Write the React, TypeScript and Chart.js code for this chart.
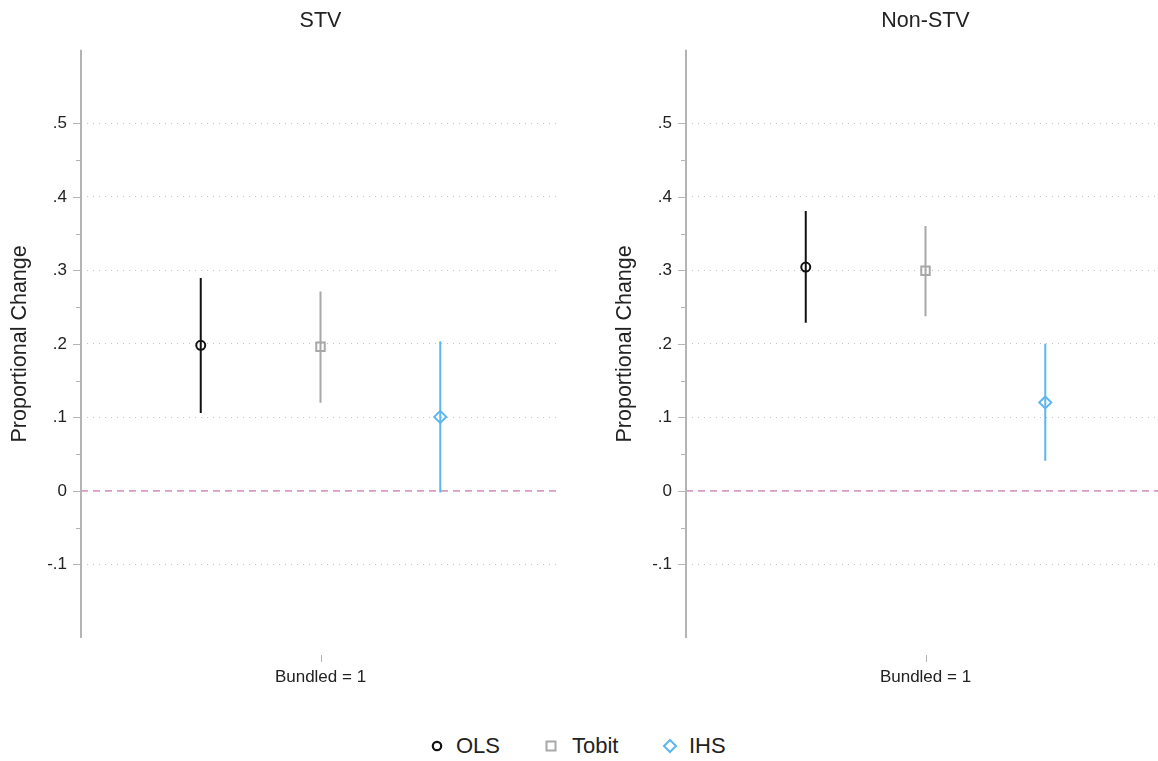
import React, { useEffect, useRef } from "react";
import { Chart, registerables } from "chart.js";

Chart.register(...registerables);

// ---------- data ----------
const SERIES_NAMES = ["OLS", "Tobit", "IHS"];
const SERIES_X = [0.75, 1, 1.25];
const SERIES_COLORS = ["#111111", "#a8a8a8", "#5db7ee"];
const SERIES_STYLES = ["circle", "rect", "rectRot"];
const SERIES_RADII = [4.5, 6, 6];

const PANEL_TITLES = ["STV", "Non-STV"];

const STV_EST = [0.198, 0.196, 0.1007];
const STV_LO = [0.106, 0.12, -0.002];
const STV_HI = [0.2895, 0.2714, 0.2037];

const NON_EST = [0.3045, 0.2995, 0.1204];
const NON_LO = [0.2287, 0.2377, 0.041];
const NON_HI = [0.3807, 0.3604, 0.2003];

const X_LABEL = "Bundled = 1";
const X_CENTER = 1;
const X_MIN = 0.5;
const X_MAX = 1.5;

const Y_MIN = -0.2;
const Y_MAX = 0.6;
const Y_MAJOR = [-0.1, 0, 0.1, 0.2, 0.3, 0.4, 0.5];
const Y_MAJOR_LABELS = ["-.1", "0", ".1", ".2", ".3", ".4", ".5"];
const Y_MINOR = [-0.05, 0.05, 0.15, 0.25, 0.35, 0.45];
const ZERO_VALUE = 0;

const Y_TITLE = "Proportional Change";

// ---------- style ----------
const FONT = "'Liberation Sans', Arial, Helvetica, sans-serif";
const TEXT_COLOR = "#222222";
const AXIS_COLOR = "#b4b4b4";
const GRID_COLOR = "#c4c4c4";
const ZERO_COLOR = "#d69cc2";

const CANVAS_W = 560;
const CANVAS_H = 700;
const PLOT_LEFT = 81;
const PLOT_BOTTOM = 638;

Chart.defaults.font.family = FONT;

const isMajor = (v: number) => Y_MAJOR.some((m) => Math.abs(m - v) < 1e-9);

const axisPlugin = {
  id: "stataAxes",
  afterDatasetsDraw(chart: any) {
    const { ctx, chartArea, scales } = chart;
    const ys = scales.y;
    const xs = scales.x;
    ctx.save();
    ctx.strokeStyle = AXIS_COLOR;
    ctx.lineWidth = 2;
    ctx.beginPath();
    ctx.moveTo(chartArea.left, chartArea.top);
    ctx.lineTo(chartArea.left, chartArea.bottom);
    ctx.stroke();
    ctx.lineWidth = 1;
    ctx.beginPath();
    Y_MAJOR.forEach((v) => {
      const py = Math.round(ys.getPixelForValue(v)) + 0.5;
      ctx.moveTo(chartArea.left - 8, py);
      ctx.lineTo(chartArea.left, py);
    });
    Y_MINOR.forEach((v) => {
      const py = Math.round(ys.getPixelForValue(v)) + 0.5;
      ctx.moveTo(chartArea.left - 5, py);
      ctx.lineTo(chartArea.left, py);
    });
    const px = Math.round(xs.getPixelForValue(X_CENTER)) + 0.5;
    ctx.moveTo(px, chartArea.bottom + 17);
    ctx.lineTo(px, chartArea.bottom + 24);
    ctx.stroke();
    ctx.restore();
  },
};

function Panel(props: { title: string; est: number[]; lo: number[]; hi: number[]; left: number }) {
  const ref = useRef<HTMLCanvasElement>(null);
  useEffect(() => {
    const { title, est, lo, hi } = props;
    const markerSets = SERIES_NAMES.map((name, i) => ({
      type: "scatter" as const,
      label: name,
      data: [{ x: SERIES_X[i], y: est[i] }],
      pointStyle: SERIES_STYLES[i],
      pointRadius: SERIES_RADII[i],
      pointBorderWidth: 2,
      pointBorderColor: SERIES_COLORS[i],
      pointBackgroundColor: "rgba(0,0,0,0)",
      showLine: false,
    }));
    const barSets = SERIES_NAMES.map((name, i) => ({
      type: "line" as const,
      label: name + " CI",
      data: [
        { x: SERIES_X[i], y: lo[i] },
        { x: SERIES_X[i], y: hi[i] },
      ],
      borderColor: SERIES_COLORS[i],
      borderWidth: 2,
      pointRadius: 0,
    }));
    const zeroSet = {
      type: "line" as const,
      label: "zero",
      data: [
        { x: X_MIN, y: ZERO_VALUE },
        { x: X_MAX, y: ZERO_VALUE },
      ],
      borderColor: ZERO_COLOR,
      borderWidth: 1.8,
      borderDash: [7, 5],
      pointRadius: 0,
    };
    const chart = new Chart(ref.current as HTMLCanvasElement, {
      type: "scatter",
      data: { datasets: [...markerSets, ...barSets, zeroSet] as any },
      plugins: [axisPlugin],
      options: {
        responsive: false,
        animation: false,
        events: [],
        layout: { padding: 0, autoPadding: false },
        plugins: {
          legend: { display: false },
          tooltip: { enabled: false },
          title: {
            display: true,
            text: title,
            fullSize: false,
            color: TEXT_COLOR,
            font: { size: 21.5, weight: "normal" as any, family: FONT },
            padding: { top: 8, bottom: 16 },
          },
        },
        scales: {
          x: {
            type: "linear",
            min: X_MIN,
            max: X_MAX,
            grid: { display: false, drawTicks: false },
            border: { display: false },
            afterBuildTicks: (s: any) => {
              s.ticks = [{ value: X_CENTER }];
            },
            afterFit: (s: any) => {
              s.height = CANVAS_H - PLOT_BOTTOM;
              s.paddingLeft = 0;
              s.paddingRight = 0;
            },
            ticks: {
              autoSkip: false,
              maxRotation: 0,
              padding: 29,
              color: TEXT_COLOR,
              font: { size: 17, family: FONT },
              callback: () => X_LABEL,
            },
          },
          y: {
            type: "linear",
            min: Y_MIN,
            max: Y_MAX,
            afterBuildTicks: (s: any) => {
              s.ticks = [...Y_MAJOR, ...Y_MINOR].sort((a, b) => a - b).map((v) => ({ value: v }));
            },
            afterFit: (s: any) => {
              s.width = PLOT_LEFT;
              s.paddingTop = 0;
              s.paddingBottom = 0;
            },
            grid: {
              drawTicks: false,
              lineWidth: 1,
              color: (c: any) =>
                c.tick && isMajor(c.tick.value) && Math.abs(c.tick.value - ZERO_VALUE) > 1e-9
                  ? GRID_COLOR
                  : "rgba(0,0,0,0)",
            },
            border: { display: false, dash: [1, 5] },
            ticks: {
              autoSkip: false,
              padding: 14,
              color: TEXT_COLOR,
              font: { size: 17, family: FONT },
              callback: (v: any) => {
                const idx = Y_MAJOR.findIndex((m) => Math.abs(m - Number(v)) < 1e-9);
                return idx >= 0 ? Y_MAJOR_LABELS[idx] : "";
              },
            },
            title: {
              display: true,
              text: Y_TITLE,
              color: TEXT_COLOR,
              font: { size: 21.5, family: FONT },
              padding: { top: 7, bottom: 0 },
            },
          },
        },
      } as any,
    });
    return () => chart.destroy();
  }, []);
  return (
    <canvas
      ref={ref}
      width={CANVAS_W}
      height={CANVAS_H}
      style={{ position: "absolute", left: props.left, top: 0, width: CANVAS_W, height: CANVAS_H }}
    />
  );
}

function LegendMarker({ i }: { i: number }) {
  const c = SERIES_COLORS[i];
  return (
    <svg width={16} height={16} style={{ position: "absolute", left: -8, top: -8 }}>
      {i === 0 && <circle cx={8} cy={8} r={4.2} fill="none" stroke={c} strokeWidth={2.2} />}
      {i === 1 && <rect x={3.5} y={3.5} width={9} height={9} fill="none" stroke={c} strokeWidth={2} />}
      {i === 2 && <polygon points="8,2 14,8 8,14 2,8" fill="none" stroke={c} strokeWidth={2} />}
    </svg>
  );
}

const LEGEND_MARKER_X = [437, 551, 670];
const LEGEND_TEXT_X = [456, 572, 689];
const LEGEND_Y = 746;

export default function App() {
  return (
    <div
      style={{
        position: "fixed",
        left: 0,
        top: 0,
        width: 1158,
        height: 761,
        overflow: "hidden",
        background: "#ffffff",
        fontFamily: FONT,
      }}
    >
      <Panel title={PANEL_TITLES[0]} est={STV_EST} lo={STV_LO} hi={STV_HI} left={0} />
      <Panel title={PANEL_TITLES[1]} est={NON_EST} lo={NON_LO} hi={NON_HI} left={605} />
      {SERIES_NAMES.map((name, i) => (
        <React.Fragment key={name}>
          <div style={{ position: "absolute", left: LEGEND_MARKER_X[i], top: LEGEND_Y, width: 0, height: 0 }}>
            <LegendMarker i={i} />
          </div>
          <div
            style={{
              position: "absolute",
              left: LEGEND_TEXT_X[i],
              top: LEGEND_Y - 13,
              height: 26,
              lineHeight: "26px",
              fontSize: 22,
              color: TEXT_COLOR,
              whiteSpace: "nowrap",
            }}
          >
            {name}
          </div>
        </React.Fragment>
      ))}
    </div>
  );
}
